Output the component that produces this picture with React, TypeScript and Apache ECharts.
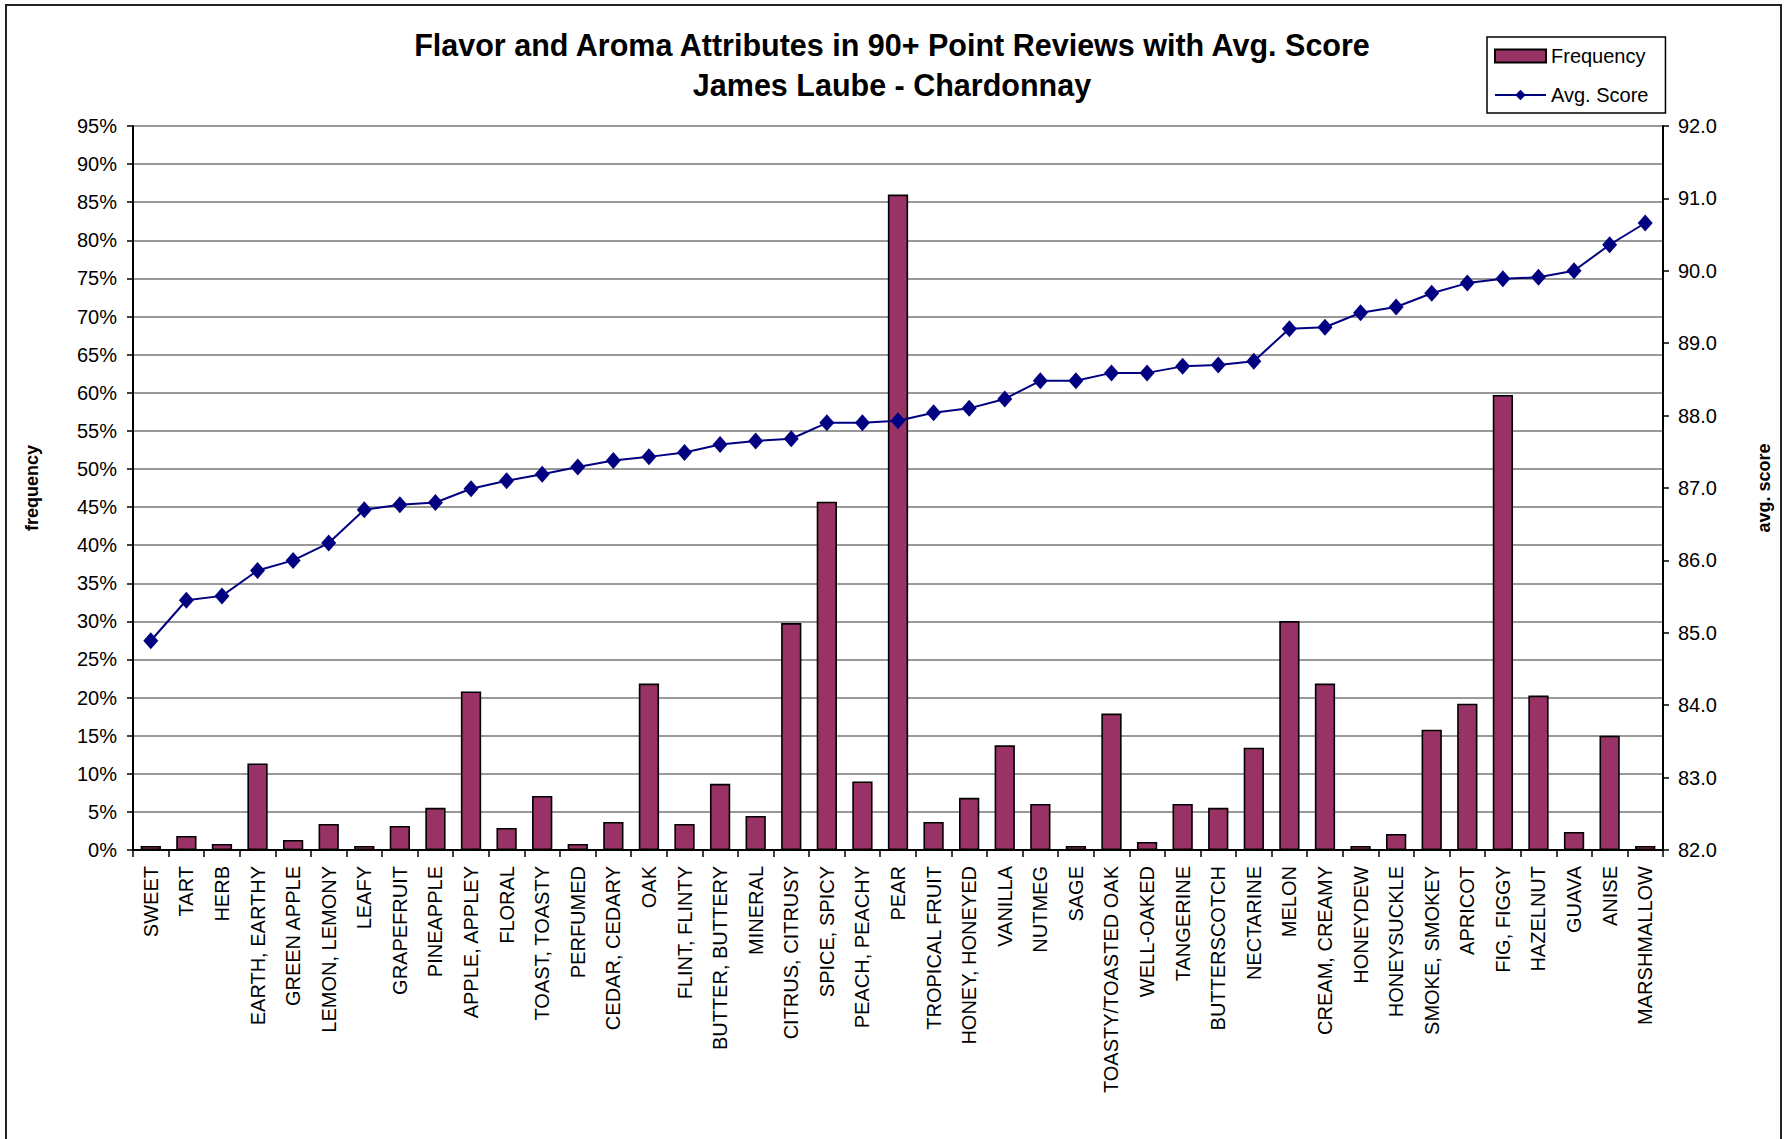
import React, { useEffect, useRef } from "react";
import * as echarts from "echarts";

const TITLE_LINES = [
  "Flavor and Aroma Attributes in 90+ Point Reviews with Avg. Score",
  "James Laube - Chardonnay",
];

const categories = [
  "SWEET", "TART", "HERB", "EARTH, EARTHY", "GREEN APPLE", "LEMON, LEMONY", "LEAFY",
  "GRAPEFRUIT", "PINEAPPLE", "APPLE, APPLEY", "FLORAL", "TOAST, TOASTY", "PERFUMED",
  "CEDAR, CEDARY", "OAK", "FLINT, FLINTY", "BUTTER, BUTTERY", "MINERAL", "CITRUS, CITRUSY",
  "SPICE, SPICY", "PEACH, PEACHY", "PEAR", "TROPICAL FRUIT", "HONEY, HONEYED", "VANILLA",
  "NUTMEG", "SAGE", "TOASTY/TOASTED OAK", "WELL-OAKED", "TANGERINE", "BUTTERSCOTCH",
  "NECTARINE", "MELON", "CREAM, CREAMY", "HONEYDEW", "HONEYSUCKLE", "SMOKE, SMOKEY",
  "APRICOT", "FIG, FIGGY", "HAZELNUT", "GUAVA", "ANISE", "MARSHMALLOW",
];

// Frequency in percent
const frequency = [
  0.53, 1.84, 0.79, 11.36, 1.32, 3.42, 0.53,
  3.16, 5.53, 20.8, 2.9, 7.1, 0.79,
  3.68, 21.84, 3.42, 8.68, 4.47, 29.78,
  45.7, 8.99, 86.0, 3.68, 6.84, 13.73,
  6.05, 0.53, 17.9, 1.05, 6.05, 5.53,
  13.42, 30.04, 21.84, 0.53, 2.1, 15.79,
  19.2, 59.7, 20.26, 2.37, 15.0, 0.53,
];

const avgScore = [
  84.89, 85.45, 85.51, 85.86, 86.0, 86.24, 86.7,
  86.77, 86.8, 86.99, 87.1, 87.19, 87.29,
  87.38, 87.43, 87.49, 87.6, 87.65, 87.68,
  87.9, 87.9, 87.93, 88.04, 88.1, 88.23,
  88.48, 88.48, 88.59, 88.59, 88.68, 88.7,
  88.75, 89.2, 89.22, 89.42, 89.5, 89.69,
  89.83, 89.89, 89.91, 90.0, 90.36, 90.66,
];

const leftAxisRange = [0, 95, 5];
const rightAxisRange = [82, 92, 1];

const FONT = "'Liberation Sans', Arial, Helvetica, sans-serif";

export default function App() {
  const ref = useRef<HTMLDivElement | null>(null);

  useEffect(() => {
    if (!ref.current) return;
    const chart = echarts.init(ref.current, undefined, { renderer: "svg" });
    const option: any = {
      animation: false,
      backgroundColor: "#ffffff",
      textStyle: { fontFamily: FONT, color: "#000" },
      graphic: [
        {
          type: "rect",
          shape: { x: 6, y: 5, width: 1775, height: 1200 },
          style: { fill: "none", stroke: "#222", lineWidth: 2 },
          silent: true,
          z: -1,
        },
      ],
      title: {
        text: TITLE_LINES.join("\n"),
        left: "center",
        top: 25,
        padding: 0,
        textStyle: {
          fontFamily: FONT,
          fontSize: 30.5,
          fontWeight: "bold",
          color: "#000",
          lineHeight: 40,
        },
      },
      legend: {
        orient: "vertical",
        left: 1487,
        top: 37,
        padding: [9, 17, 8, 7],
        itemWidth: 51,
        itemHeight: 13,
        itemGap: 19,
        borderColor: "#000",
        borderWidth: 1.5,
        backgroundColor: "#fff",
        textStyle: { fontFamily: FONT, fontSize: 20, color: "#000" },
        data: [
          { name: "Frequency", icon: "rect" },
          { name: "Avg. Score" },
        ],
      },
      grid: { left: 133, right: 121, top: 126, bottom: 289 },
      xAxis: {
        type: "category",
        data: categories,
        boundaryGap: true,
        axisLine: { lineStyle: { color: "#000", width: 2 } },
        axisTick: { show: true, length: 7, lineStyle: { color: "#000", width: 1.5 } },
        axisLabel: {
          interval: 0,
          rotate: 90,
          margin: 16,
          fontSize: 20,
          fontFamily: FONT,
          color: "#000",
        },
        splitLine: { show: false },
      },
      yAxis: [
        {
          type: "value",
          min: leftAxisRange[0],
          max: leftAxisRange[1],
          interval: leftAxisRange[2],
          name: "frequency",
          nameLocation: "middle",
          nameRotate: 90,
          nameGap: 92,
          nameTextStyle: { fontFamily: FONT, fontSize: 18, fontWeight: "bold", color: "#000" },
          axisLine: { show: true, lineStyle: { color: "#000", width: 2 } },
          axisTick: { show: true, length: 6, lineStyle: { color: "#000", width: 1.5 } },
          axisLabel: {
            formatter: "{value}%",
            fontSize: 20,
            fontFamily: FONT,
            color: "#000",
            margin: 16,
          },
          splitLine: { show: true, lineStyle: { color: "#777777", width: 1.5 } },
        },
        {
          type: "value",
          min: rightAxisRange[0],
          max: rightAxisRange[1],
          interval: rightAxisRange[2],
          name: "avg. score",
          nameLocation: "middle",
          nameRotate: 90,
          nameGap: 92,
          nameTextStyle: { fontFamily: FONT, fontSize: 18, fontWeight: "bold", color: "#000" },
          position: "right",
          axisLine: { show: true, lineStyle: { color: "#000", width: 2 } },
          axisTick: { show: true, length: 6, lineStyle: { color: "#000", width: 1.5 } },
          axisLabel: {
            formatter: (v: number) => v.toFixed(1),
            fontSize: 20,
            fontFamily: FONT,
            color: "#000",
            margin: 15,
          },
          splitLine: { show: false },
        },
      ],
      series: [
        {
          name: "Frequency",
          type: "bar",
          yAxisIndex: 0,
          data: frequency,
          barCategoryGap: "43%",
          itemStyle: { color: "#993366", borderColor: "#000", borderWidth: 1.6 },
        },
        {
          name: "Avg. Score",
          type: "line",
          yAxisIndex: 1,
          data: avgScore,
          symbol: "diamond",
          symbolSize: [15, 17],
          lineStyle: { color: "#000080", width: 2 },
          itemStyle: { color: "#000080" },
          z: 5,
        },
      ],
    };
    chart.setOption(option);
    return () => chart.dispose();
  }, []);

  return (
    <div
      ref={ref}
      style={{ position: "absolute", left: 0, top: 0, width: 1784, height: 1139 }}
    />
  );
}
